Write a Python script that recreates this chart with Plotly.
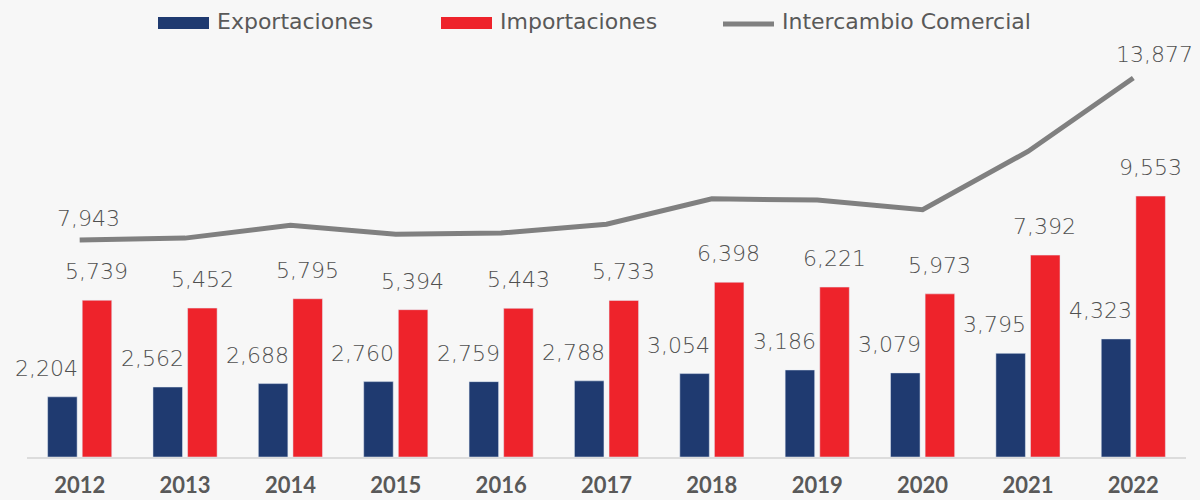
import plotly.graph_objects as go

years = ["2012", "2013", "2014", "2015", "2016", "2017", "2018", "2019", "2020", "2021", "2022"]
exportaciones = [2204, 2562, 2688, 2760, 2759, 2788, 3054, 3186, 3079, 3795, 4323]
importaciones = [5739, 5452, 5795, 5394, 5443, 5733, 6398, 6221, 5973, 7392, 9553]
intercambio = [7943, 8014, 8483, 8154, 8202, 8521, 9452, 9407, 9052, 11187, 13877]
series_names = ["Exportaciones", "Importaciones", "Intercambio Comercial"]

BLUE = "#1f3a70"
RED = "#ee232b"
GRAY = "#808080"
BG = "#f7f7f7"
TXT = "#505050"

W, H = 1200, 500
ML, MR, MT, MB = 27, 14, 20, 43
PW, PH = W - ML - MR, H - MT - MB

def px_x(p):
    return (p - ML) / PW

def px_y(p):
    return (H - MB - p) / PH

fig = go.Figure()
fig.add_trace(go.Bar(x=years, y=exportaciones, name=series_names[0], marker_color=BLUE,
                     showlegend=False))
fig.add_trace(go.Bar(x=years, y=importaciones, name=series_names[1], marker_color=RED,
                     showlegend=False))
fig.add_trace(go.Scatter(x=years, y=intercambio, name=series_names[2], mode="lines",
                         line=dict(color=GRAY, width=5), showlegend=False))

label_font = dict(family="DejaVu Sans", size=22, color=TXT, weight=200)
annotations = []
for i, v in enumerate(exportaciones):
    annotations.append(dict(x=i, y=v, xref="x", yref="y", text=f"{v:,}", showarrow=False,
                            yanchor="bottom", xanchor="center", xshift=-33, yshift=14,
                            font=label_font))
for i, v in enumerate(importaciones):
    annotations.append(dict(x=i, y=v, xref="x", yref="y", text=f"{v:,}", showarrow=False,
                            yanchor="bottom", xanchor="center", xshift=17, yshift=14,
                            font=label_font))
for i, xs, ys in [(0, 9, 7), (len(years) - 1, 21, 9)]:
    annotations.append(dict(x=i, y=intercambio[i], xref="x", yref="y",
                            text=f"{intercambio[i]:,}", showarrow=False,
                            yanchor="bottom", xanchor="center", xshift=xs, yshift=ys,
                            font=label_font))

# manual legend
shapes = []
legend_font = dict(family="DejaVu Sans", size=22, color="#595959")
leg = [(158, BLUE, "rect", series_names[0]), (441, RED, "rect", series_names[1]),
       (723, GRAY, "line", series_names[2])]
for x0, col, kind, name in leg:
    if kind == "rect":
        shapes.append(dict(type="rect", xref="paper", yref="paper",
                           x0=px_x(x0), x1=px_x(x0 + 51), y0=px_y(29), y1=px_y(17),
                           fillcolor=col, line=dict(width=0)))
    else:
        shapes.append(dict(type="line", xref="paper", yref="paper",
                           x0=px_x(x0), x1=px_x(x0 + 51), y0=px_y(24), y1=px_y(24),
                           line=dict(color=col, width=5)))
    annotations.append(dict(x=px_x(x0 + 57), y=px_y(22), xref="paper", yref="paper",
                            text=name, showarrow=False, xanchor="left", yanchor="middle",
                            font=legend_font))

fig.update_layout(
    width=W, height=H,
    margin=dict(l=ML, r=MR, t=MT, b=MB, autoexpand=False),
    paper_bgcolor=BG, plot_bgcolor=BG,
    barmode="group", bargap=0.343, bargroupgap=0.147,
    showlegend=False,
    annotations=annotations, shapes=shapes,
    xaxis=dict(type="category", range=[-0.5, len(years) - 0.5], showgrid=False,
               zeroline=False, showline=True, automargin=False,
               linecolor="#dcdcdc", linewidth=2, ticks="outside", ticklen=8,
               tickcolor="rgba(0,0,0,0)",
               tickfont=dict(family="Lato", size=22, color="#595959", weight="bold")),
    yaxis=dict(range=[0, 16000], visible=False, showgrid=False, zeroline=False,
               automargin=False),
)

fig.write_html(
    "out.html",
    config={"displayModeBar": False},
    post_script="document.body.style.margin='0';document.body.style.background='#f7f7f7';"
                "document.body.style.overflow='hidden';",
)
